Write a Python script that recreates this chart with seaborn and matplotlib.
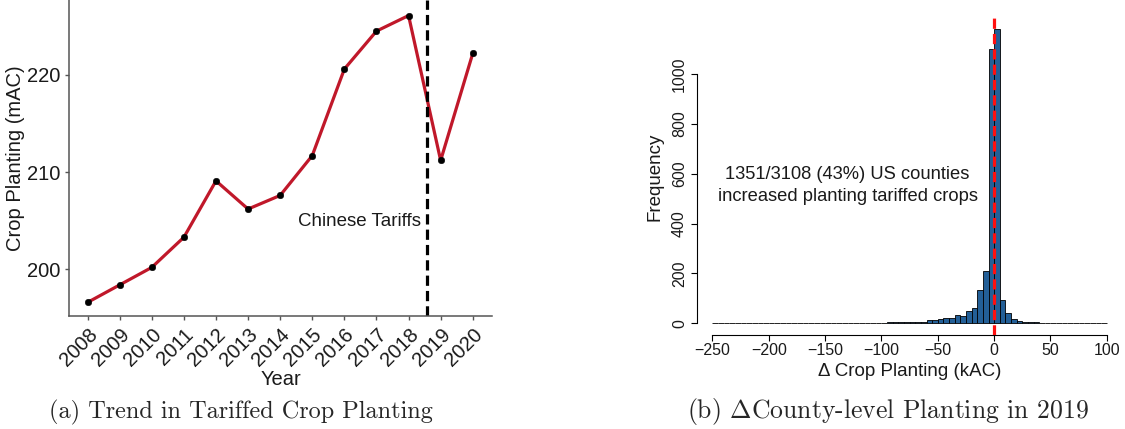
import matplotlib
matplotlib.use("Agg")
import matplotlib.pyplot as plt
import seaborn as sns
import numpy as np
import pandas as pd

# ---------------- data ----------------
years = [2008, 2009, 2010, 2011, 2012, 2013, 2014, 2015, 2016, 2017, 2018, 2019, 2020]
planting_mac = [196.6, 198.4, 200.2, 203.3, 209.1, 206.2, 207.6, 211.7, 220.6, 224.5, 226.1, 211.2, 222.2]
tariff_year_line = 2018.58

bin_edges = list(range(-250, 101, 5))
bin_counts = [
    1, 1, 0, 1, 1, 2, 1, 1, 0, 1,        # -250 .. -205
    1, 1, 1, 0, 1, 1, 1, 2, 1, 1,        # -200 .. -155
    1, 2, 2, 1, 1, 1, 1, 1, 2, 1,        # -150 .. -105
    2, 3, 4, 6, 6, 5, 4, 5,              # -100 .. -65
    13, 13, 17, 20, 20, 32, 31, 49, 63, 134, 210, 1099,   # -60 .. -5
    1179, 95, 40, 17, 9, 4, 3, 3, 1, 2,  # 0 .. 45
    1, 1, 0, 1, 0, 1, 1, 0, 1, 1,        # 50 .. 95
]
annot_text = "1351/3108 (43%) US counties\nincreased planting tariffed crops"
caption_a = "(a) Trend in Tariffed Crop Planting"
caption_b = r"(b) $\Delta$County-level Planting in 2019"

# ---------------- style ----------------
sns.set_theme(style="white")
plt.rcParams["font.family"] = ["Liberation Sans", "DejaVu Sans"]
plt.rcParams["mathtext.fontset"] = "cm"

fig = plt.figure(figsize=(11.25, 4.29), dpi=100)

# ---------------- panel (a) ----------------
W, H = 1125, 429
ax1 = fig.add_axes([69 / W, 1 - 316 / H, (492 - 69) / W, 316 / H])
df1 = pd.DataFrame({"Year": years, "Planting": planting_mac})
sns.lineplot(data=df1, x="Year", y="Planting", color="#C0182A", linewidth=2.3, ax=ax1)
sns.scatterplot(data=df1, x="Year", y="Planting", color="black", s=22, edgecolor="black", zorder=3, ax=ax1)
ax1.axvline(tariff_year_line, color="black", linestyle=(0, (3.2, 1.6)), linewidth=2.3)
ax1.text(tariff_year_line - 0.18, 204.9, "Chinese Tariffs", ha="right", va="center", fontsize=13.5, color="#1a1a1a")
ax1.set_xlim(2007.42, 2020.6)
ax1.set_ylim(195.2, 227.7)
ax1.set_xticks(years)
ax1.set_xticklabels([str(y) for y in years], rotation=45, ha="right", va="top", rotation_mode="anchor")
ax1.set_yticks([200, 210, 220])
ax1.tick_params(axis="both", labelsize=14.5, colors="#1a1a1a", length=3, width=1, direction="out",
                bottom=True, left=True)
ax1.tick_params(axis="both", color="#555555")
for s in ["top", "right"]:
    ax1.spines[s].set_visible(False)
for s in ["left", "bottom"]:
    ax1.spines[s].set_color("#555555")
    ax1.spines[s].set_linewidth(1.1)
ax1.set_xlabel("Year", fontsize=14.5, color="#1a1a1a", labelpad=0)
ax1.set_ylabel("Crop Planting (mAC)", fontsize=14.5, color="#1a1a1a", labelpad=1)

# ---------------- panel (b) ----------------
ax2 = fig.add_axes([696.7 / W, 1 - 335 / H, (1122.6 - 696.7) / W, (335 - 17.7) / H])
centers = [(bin_edges[i] + bin_edges[i + 1]) / 2 for i in range(len(bin_edges) - 1)]
df2 = pd.DataFrame({"delta": centers, "count": bin_counts})
sns.histplot(data=df2, x="delta", weights="count", bins=bin_edges, color="#235F97", edgecolor="black",
             linewidth=0.6, alpha=1.0, ax=ax2)
ax2.axvline(0, color="#FF1010", linestyle=(0, (3.2, 1.6)), linewidth=2.3, zorder=5)
ax2.text(-130, 552, annot_text, ha="center", va="center", fontsize=13.2, linespacing=1.35, color="#1a1a1a")
ax2.set_xlim(-264, 114)
ax2.set_ylim(-47.2, 1226)
ax2.set_xticks([-250, -200, -150, -100, -50, 0, 50, 100])
ax2.set_xticklabels(["\u2212250", "\u2212200", "\u2212150", "\u2212100", "\u221250", "0", "50", "100"])
ax2.set_yticks([0, 200, 400, 600, 800, 1000])
ax2.tick_params(axis="both", labelsize=11.5, colors="#1a1a1a", length=4, width=0.8, direction="out",
                bottom=True, left=True, pad=2)
ax2.tick_params(axis="both", color="black")
ax2.tick_params(axis="y", labelrotation=90, pad=3)
for lab in ax2.get_yticklabels():
    lab.set_va("center")
for s in ["top", "right"]:
    ax2.spines[s].set_visible(False)
for s in ["left", "bottom"]:
    ax2.spines[s].set_color("black")
    ax2.spines[s].set_linewidth(0.8)
ax2.spines["left"].set_bounds(0, 1000)
ax2.spines["bottom"].set_bounds(-250, 100)
ax2.set_xlabel("\u0394 Crop Planting (kAC)", fontsize=13.5, color="#1a1a1a", labelpad=3)
ax2.set_ylabel("Frequency", fontsize=13.5, color="#1a1a1a", labelpad=6)

# ---------------- captions ----------------
fig.text(49 / W, 1 - 418 / H, caption_a, ha="left", va="baseline", fontsize=17.5, family="cmr10")
fig.text(687 / W, 1 - 418 / H, caption_b, ha="left", va="baseline", fontsize=18.5, family="cmr10")

fig.savefig("out.png", dpi=100)
